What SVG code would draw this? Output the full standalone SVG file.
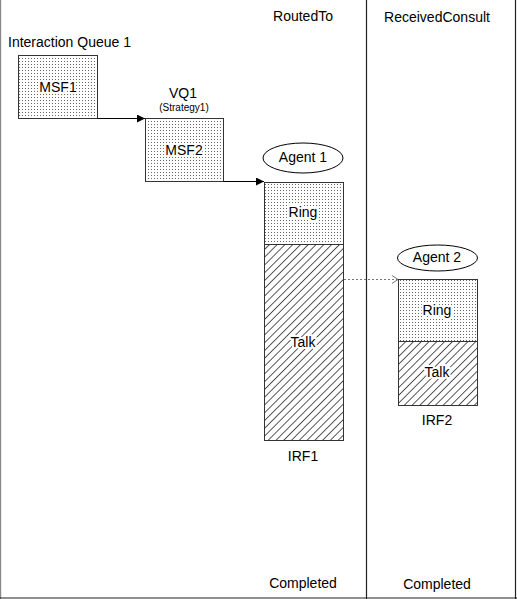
<svg xmlns="http://www.w3.org/2000/svg" width="517" height="599" viewBox="0 0 517 599">
<style>
text{font-family:"Liberation Sans",Arial,sans-serif;font-size:14px;fill:#000;text-anchor:middle}
.l{text-anchor:start}
.s{font-size:10px}
.h{stroke:#fff;stroke-width:4px;paint-order:stroke;stroke-linejoin:round}
.box{stroke:#333;stroke-width:1}
.dot{fill:url(#dots)}
.hat{fill:url(#hatch)}
.frame{stroke:#222;stroke-width:1.2;fill:none}
.ell{fill:#fff;stroke:#000;stroke-width:1}
.c{stroke:#000;stroke-width:1;fill:none}
.cd{stroke:#777;stroke-width:1;fill:none;stroke-dasharray:2 2}
</style>
<defs>
<pattern id="dots" width="3" height="3" patternUnits="userSpaceOnUse">
<rect width="3" height="3" fill="#fff"/>
<rect x="1" y="1" width="1" height="1" fill="#666"/>
</pattern>
<pattern id="hatch" width="5.5" height="5.5" patternUnits="userSpaceOnUse" patternTransform="rotate(45)">
<rect width="5.5" height="5.5" fill="#fff"/>
<line x1="0" y1="0" x2="0" y2="5.5" stroke="#111" stroke-width="1.4"/>
</pattern>
<marker id="arr" markerWidth="8" markerHeight="8" refX="8" refY="4" orient="auto" markerUnits="userSpaceOnUse">
<path d="M0,0 L8,4 L0,8 Z" fill="#000"/>
</marker>
<marker id="open" markerWidth="8" markerHeight="10" refX="7" refY="5" orient="auto" markerUnits="userSpaceOnUse">
<path d="M1,1 L7,5 L1,9" fill="none" stroke="#777" stroke-width="1"/>
</marker>
</defs>
<rect width="517" height="599" fill="#fff"/>
<g id="frame">
<line class="frame" x1="0.6" y1="0" x2="0.6" y2="599" style="stroke:#888"/>
<line class="frame" x1="0" y1="598" x2="517" y2="598"/>
<line class="frame" x1="515.5" y1="0" x2="515.5" y2="599"/>
<line class="frame" x1="366.5" y1="0" x2="366.5" y2="599"/>
<text x="303" y="21">RoutedTo</text>
<text x="437" y="22">ReceivedConsult</text>
<text x="303" y="588">Completed</text>
<text x="437" y="589">Completed</text>
</g>
<g id="queue1">
<text class="l" x="8" y="47">Interaction Queue 1</text>
<rect class="box dot" x="18.5" y="55.5" width="79" height="63"/>
<text class="h" x="58" y="92">MSF1</text>
</g>
<g id="vq1">
<text x="183" y="98">VQ1</text>
<text class="s" x="184" y="111">(Strategy1)</text>
<rect class="box dot" x="145.5" y="118.5" width="78" height="63"/>
<text class="h" x="184" y="155">MSF2</text>
</g>
<g id="agent1">
<ellipse class="ell" cx="303" cy="158" rx="40" ry="15"/>
<text x="303" y="162">Agent 1</text>
</g>
<g id="irf1">
<rect class="box dot" x="264.5" y="182.5" width="79" height="62"/>
<rect class="box hat" x="264.5" y="244.5" width="79" height="196"/>
<text class="h" x="303" y="217">Ring</text>
<text class="h" x="303" y="347">Talk</text>
<text x="303" y="461">IRF1</text>
</g>
<g id="agent2">
<ellipse class="ell" cx="437.5" cy="258" rx="40" ry="13"/>
<text x="437" y="262">Agent 2</text>
</g>
<g id="irf2">
<rect class="box dot" x="398.5" y="279.5" width="79" height="62"/>
<rect class="box hat" x="398.5" y="341.5" width="79" height="64"/>
<text class="h" x="437" y="315">Ring</text>
<text class="h" x="437" y="377">Talk</text>
<text x="437" y="425">IRF2</text>
</g>
<g id="connectors">
<line class="c" x1="97.5" y1="118.5" x2="145" y2="118.5" marker-end="url(#arr)"/>
<line class="c" x1="223.5" y1="181.5" x2="264" y2="181.5" marker-end="url(#arr)"/>
<line class="cd" x1="344" y1="279.5" x2="398" y2="279.5" marker-end="url(#open)"/>
</g>
</svg>
